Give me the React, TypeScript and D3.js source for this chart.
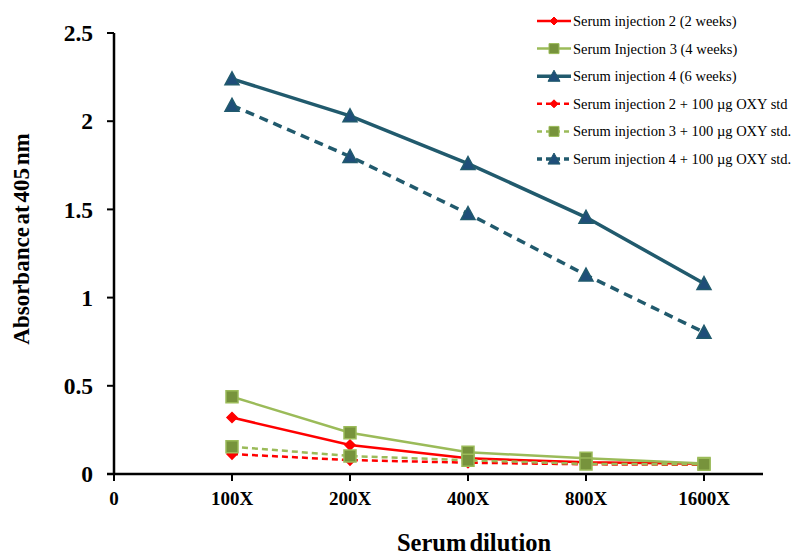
import React from "react";
import * as d3 from "d3";

// Dilution categories placed at x = 1..5 on a linear axis starting at 0
const categories = ["100X", "200X", "400X", "800X", "1600X"];
const xTickLabels = ["0", "100X", "200X", "400X", "800X", "1600X"];
const yTicks = [0, 0.5, 1, 1.5, 2, 2.5];

const inj2 = [0.32, 0.164, 0.089, 0.066, 0.058];
const inj3 = [0.438, 0.234, 0.123, 0.089, 0.06];
const inj4 = [2.24, 2.03, 1.76, 1.455, 1.08];
const inj2Oxy = [0.113, 0.079, 0.064, 0.055, 0.052];
const inj3Oxy = [0.155, 0.102, 0.078, 0.057, 0.055];
const inj4Oxy = [2.09, 1.8, 1.476, 1.128, 0.803];

const seriesNames = [
  "Serum injection 2 (2 weeks)",
  "Serum Injection 3 (4 weeks)",
  "Serum injection 4 (6 weeks)",
  "Serum injection 2 + 100 µg OXY std",
  "Serum injection 3 + 100 µg OXY std.",
  "Serum injection 4 + 100 µg OXY std.",
];

type Style = {
  line: string;
  width: number;
  dash: string | null;
  marker: "diamond" | "square" | "triangle";
  fill: string;
  stroke: string;
};

const RED = "#FF0000";
const GREEN_LINE = "#9BBB59";
const GREEN_MARK = "#77933C";
const TEAL = "#215A6D";
const NAVY = "#1F4E79";

const styles: Style[] = [
  { line: RED, width: 2.5, dash: null, marker: "diamond", fill: RED, stroke: RED },
  { line: GREEN_LINE, width: 2.5, dash: null, marker: "square", fill: GREEN_MARK, stroke: GREEN_LINE },
  { line: TEAL, width: 3.5, dash: null, marker: "triangle", fill: NAVY, stroke: TEAL },
  { line: RED, width: 2.5, dash: "6 4", marker: "diamond", fill: RED, stroke: RED },
  { line: GREEN_LINE, width: 2.5, dash: "6 4", marker: "square", fill: GREEN_MARK, stroke: GREEN_LINE },
  { line: TEAL, width: 3.5, dash: "9 6", marker: "triangle", fill: NAVY, stroke: TEAL },
];

const seriesValues = [inj2, inj3, inj4, inj2Oxy, inj3Oxy, inj4Oxy];

const W = 793;
const H = 557;
const FONT = "'Liberation Serif', 'Times New Roman', serif";

const x = d3.scaleLinear().domain([0, 5.5]).range([114, 763]);
const y = d3.scaleLinear().domain([0, 2.5]).range([474, 33]);

function markerPath(kind: Style["marker"], size: number): string {
  const s = size / 2;
  if (kind === "diamond") return `M0,${-s}L${s},0L0,${s}L${-s},0Z`;
  if (kind === "square") return `M${-s},${-s}H${s}V${s}H${-s}Z`;
  return `M0,${-s}L${s},${s * 0.85}L${-s},${s * 0.85}Z`;
}

function markerSize(kind: Style["marker"]): number {
  if (kind === "diamond") return 10;
  if (kind === "square") return 12;
  return 14;
}

export default function App() {
  const line = d3
    .line<number>()
    .x((_, i) => x(i + 1))
    .y((d) => y(d));

  return (
    <svg
      width={W}
      height={H}
      style={{ position: "absolute", left: 0, top: 0, background: "#fff" }}
      fontFamily={FONT}
    >
      {/* axes */}
      <line x1={x(0)} x2={x(0)} y1={y(2.5)} y2={y(0)} stroke="#000" strokeWidth={2.5} />
      <line x1={x(0) - 7} x2={x(5.5)} y1={y(0)} y2={y(0)} stroke="#000" strokeWidth={2.5} />
      {yTicks.map((t) => (
        <g key={t}>
          <line x1={x(0) - 7} x2={x(0)} y1={y(t)} y2={y(t)} stroke="#000" strokeWidth={2} />
          <text
            x={93}
            y={y(t)}
            dy="0.35em"
            textAnchor="end"
            fontSize={23.5}
            fontWeight="bold"
          >
            {String(t)}
          </text>
        </g>
      ))}
      {xTickLabels.map((lab, i) => (
        <g key={lab}>
          <line x1={x(i)} x2={x(i)} y1={y(0)} y2={y(0) + 7} stroke="#000" strokeWidth={2} />
          <text
            x={x(i)}
            y={505}
            textAnchor="middle"
            fontSize={19}
            fontWeight="bold"
          >
            {lab}
          </text>
        </g>
      ))}
      <text x={474} y={551} textAnchor="middle" fontSize={24.5} fontWeight="bold" wordSpacing={-3}>
        Serum dilution
      </text>
      <text
        transform={`translate(29,239) rotate(-90)`}
        textAnchor="middle"
        fontSize={23}
        fontWeight="bold"
        wordSpacing={-3}
      >
        Absorbance at 405 nm
      </text>

      {/* series */}
      {seriesValues.map((vals, si) => {
        const st = styles[si];
        return (
          <g key={si}>
            <path
              d={line(vals) || ""}
              fill="none"
              stroke={st.line}
              strokeWidth={st.width}
              strokeDasharray={st.dash || undefined}
            />
            {vals.map((v, i) => (
              <path
                key={categories[i]}
                transform={`translate(${x(i + 1)},${y(v)})`}
                d={markerPath(st.marker, markerSize(st.marker))}
                fill={st.fill}
                stroke={st.stroke}
                strokeWidth={1.5}
              />
            ))}
          </g>
        );
      })}

      {/* legend */}
      {seriesNames.map((name, i) => {
        const st = styles[i];
        const ly = 21 + i * 27.6;
        return (
          <g key={name}>
            <line
              x1={537}
              x2={571}
              y1={ly}
              y2={ly}
              stroke={st.line}
              strokeWidth={st.width}
              strokeDasharray={st.dash ? "5 4" : undefined}
            />
            <path
              transform={`translate(554,${ly})`}
              d={markerPath(st.marker, markerSize(st.marker) - 2)}
              fill={st.fill}
              stroke={st.stroke}
              strokeWidth={1}
            />
            <text x={573} y={ly} dy="0.35em" fontSize={14.5}>
              {name}
            </text>
          </g>
        );
      })}
    </svg>
  );
}
